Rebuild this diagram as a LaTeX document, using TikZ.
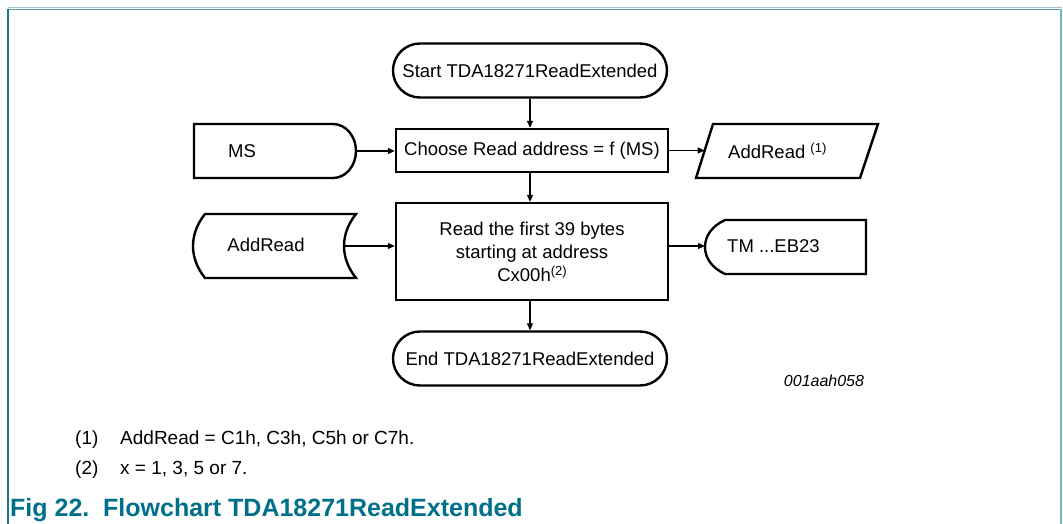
\documentclass[tikz,border=0pt]{standalone}
\usepackage{fontspec}
\setmainfont{Liberation Sans}
\usetikzlibrary{arrows.meta,calc}
\definecolor{capcol}{RGB}{0,112,138}
\definecolor{frameleft}{RGB}{20,120,138}
\definecolor{frametop}{RGB}{80,155,165}
\definecolor{frametoplight}{RGB}{160,200,215}
\definecolor{frameright}{RGB}{120,184,198}
\begin{document}
\begin{tikzpicture}[x=1pt,y=-1pt,
  txt/.style={font=\fontsize{18.5}{23}\selectfont, inner sep=0pt},
  box/.style={draw, line width=2.4pt, fill=white, inner sep=0pt},
  term/.style={box, txt, minimum width=274pt, minimum height=54pt, rounded corners=27pt},
  proc/.style={box, txt, minimum width=272pt, align=center},
  outline/.style={draw, line width=2.4pt, fill=white, line join=miter},
  holder/.style={inner sep=0pt, minimum width=#1},
  arr/.style={line width=1.2pt, -{Triangle[length=7pt,width=6pt]}},
  fn/.style={font=\fontsize{19}{23}\selectfont, inner sep=0pt, anchor=base west},
  captext/.style={font=\fontsize{25}{25}\selectfont\bfseries, text=capcol, anchor=base west, inner sep=0pt}
]
\useasboundingbox (0,0) rectangle (1063,524);
% frame
\draw[frametoplight, line width=1pt] (8,8) -- (1062,8);
\draw[frametop, line width=1.6pt] (8,9.5) -- (1062,9.5);
\draw[frameleft, line width=1.6pt] (8,9) -- (8,524);
\draw[frameright, line width=2pt] (1061,9) -- (1061,524);

% main column
\node[term] (start) at (530,70.5) {Start TDA18271ReadExtended};
\node[proc, minimum height=43pt] (choose) at (532,150.5) {Choose Read address = f (MS)};
\node[proc, minimum height=97pt] (read) at (532,251.5) {Read the first 39 bytes\\starting at address\\Cx00h\raisebox{6pt}{\fontsize{13}{13}\selectfont(2)}};
\node[term] (end) at (530,358.5) {End TDA18271ReadExtended};

% MS (delay-like shape)
\node[holder=162pt, minimum height=54pt] (ms) at (275,151) {};
\path[outline] (194,124) -- (333,124) .. controls (345.7,124) and (356,136.1) .. (356,151)
  .. controls (356,165.9) and (345.7,178) .. (333,178) -- (194,178) -- cycle;
\node[txt] (mstext) at (242,151) {MS};

% stored data AddRead
\node[holder=163pt, minimum height=64pt] (sd) at (274.5,246) {};
\path[outline] (205,214) -- (356,214) .. controls (348,224) and (344,235) .. (344,246)
  .. controls (344,257) and (348,268) .. (356,278) -- (205,278)
  .. controls (197,268) and (193,257) .. (193,246) .. controls (193,235) and (197,224) .. (205,214) -- cycle;
\node[txt] (sdtext) at (266,245) {AddRead};
\coordinate (sdout) at (344,246);

% parallelogram AddRead (1)
\node[holder=182pt, minimum height=54pt] (ar) at (787,151) {};
\path[outline] (713,124) -- (878,124) -- (860,178) -- (696,178) -- cycle;
\node[txt, anchor=west] (artext) at (728,151) {AddRead \raisebox{6pt}{\fontsize{13}{13}\selectfont(1)}};
\coordinate (arin) at (704.7,150.5);

% display TM ...EB23
\node[holder=161pt, minimum height=54pt] (tm) at (785.5,247) {};
\path[outline] (725,220) -- (866,220) -- (866,274) -- (725,274)
  .. controls (712,268) and (705,258) .. (705,247) .. controls (705,236) and (712,226) .. (725,220) -- cycle;
\node[txt, anchor=west] (tmtext) at (727,246) {TM ...EB23};
\coordinate (tmin) at (705,246);

% connectors
\draw[arr] (start.south) -- (start.south |- choose.north);
\draw[arr] (start.south |- choose.south) -- (start.south |- read.north);
\draw[arr] (start.south |- read.south) -- (end.north);
\draw[arr] (ms.east) -- (ms.east -| choose.west);
\draw[arr] (choose.east) -- (arin);
\draw[arr] (sdout) -- (sdout -| read.west);
\draw[arr] (tmin -| read.east) -- (tmin);

% code label
\node[font=\fontsize{16}{16}\selectfont\itshape, inner sep=0pt] (code) at (824,381) {001aah058};

% footnotes
\node[fn] (fn1n) at (75,444) {(1)};
\node[fn] (fn1) at (120,444) {AddRead = C1h, C3h, C5h or C7h.};
\node[fn] (fn2n) at (75,474) {(2)};
\node[fn] (fn2) at (120,474) {x = 1, 3, 5 or 7.};

% caption
\node[captext] (capnum) at (10,516) {Fig 22.};
\node[captext] (captxt) at (103,516) {Flowchart TDA18271ReadExtended};
\end{tikzpicture}
\end{document}
